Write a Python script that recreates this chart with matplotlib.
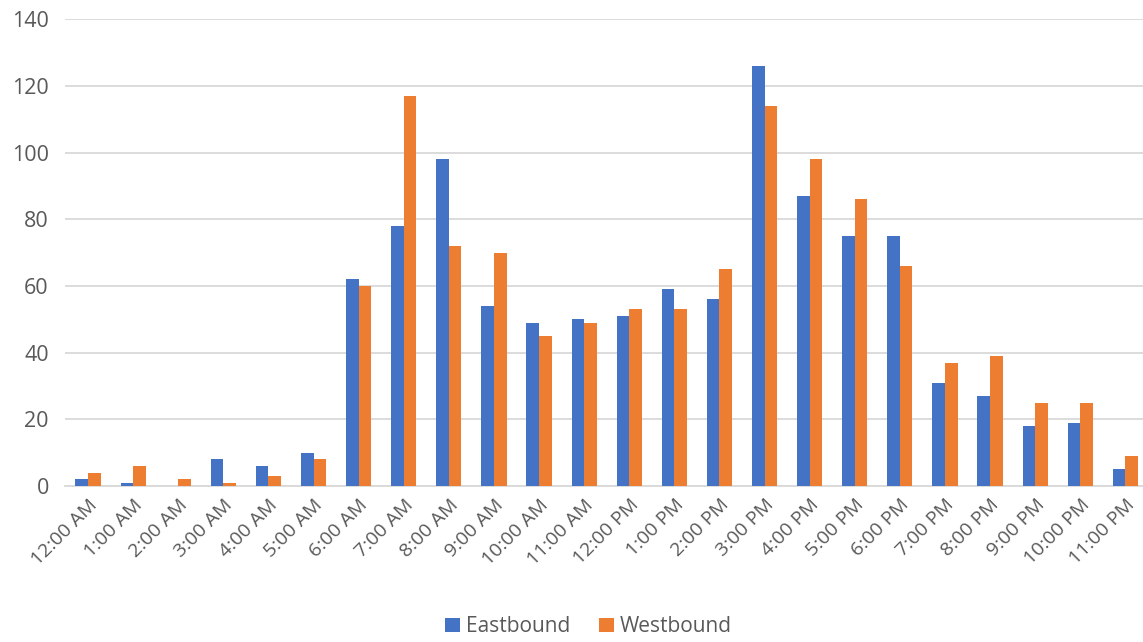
import matplotlib.pyplot as plt
import numpy as np

hours = ['12:00 AM', '1:00 AM', '2:00 AM', '3:00 AM', '4:00 AM', '5:00 AM',
         '6:00 AM', '7:00 AM', '8:00 AM', '9:00 AM', '10:00 AM', '11:00 AM',
         '12:00 PM', '1:00 PM', '2:00 PM', '3:00 PM', '4:00 PM', '5:00 PM',
         '6:00 PM', '7:00 PM', '8:00 PM', '9:00 PM', '10:00 PM', '11:00 PM']
eastbound = [2, 1, 0, 8, 6, 10, 62, 78, 98, 54, 49, 50,
             51, 59, 56, 126, 87, 75, 75, 31, 27, 18, 19, 5]
westbound = [4, 6, 2, 1, 3, 8, 60, 117, 72, 70, 45, 49,
             53, 53, 65, 114, 98, 86, 66, 37, 39, 25, 25, 9]

plt.rcParams['font.family'] = ['Open Sans', 'DejaVu Sans']
grey = '#595959'

fig = plt.figure(figsize=(11.43, 6.42), dpi=100)
ax = fig.add_axes([0.0573, 0.243, 0.947, 0.727])

x = np.arange(len(hours))
w = 0.28
ax.bar(x - w / 2, eastbound, w, color='#4472C4', label='Eastbound', zorder=3)
ax.bar(x + w / 2, westbound, w, color='#ED7D31', label='Westbound', zorder=3)

ax.set_xlim(-0.5, len(hours) - 0.5)
ax.set_ylim(0, 140)
ax.set_yticks(range(0, 141, 20))
ax.yaxis.grid(True, color='#D9D9D9', linewidth=1.3, zorder=0)
for s in ['top', 'right', 'left']:
    ax.spines[s].set_visible(False)
ax.spines['bottom'].set_color('#D9D9D9')
ax.spines['bottom'].set_linewidth(1.3)
ax.tick_params(length=0, colors=grey)
ax.tick_params(axis='y', pad=12, labelsize=15.5)

ax.set_xticks(x)
ax.set_xticklabels(hours, rotation=45, ha='right', rotation_mode='anchor')
ax.tick_params(axis='x', pad=7, labelsize=14)

fig.legend(loc='lower center', bbox_to_anchor=(0.515, -0.022), ncol=2,
           frameon=False, fontsize=15, labelcolor=grey, handlelength=0.7,
           handleheight=0.7, handletextpad=0.3, columnspacing=1.4)

fig.savefig('out.png', dpi=100)
